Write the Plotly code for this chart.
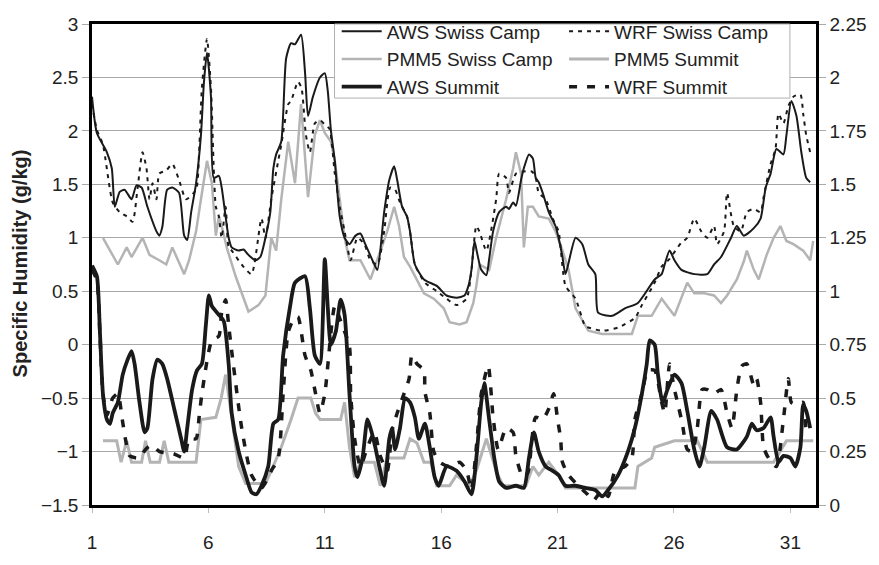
import plotly.graph_objects as go

# ---- Swiss Camp (left axis, g/kg) ----
aws_sc_day = [1.00, 1.21, 1.64, 1.85, 1.98, 2.19, 2.40, 2.70, 2.91, 3.13, 3.38, 3.77, 3.89, 4.02, 4.23, 4.45,
              4.74, 4.96, 5.09, 5.26, 5.47, 5.68, 5.81, 5.94, 6.11, 6.23, 6.45, 6.57, 6.87, 7.00, 7.30, 7.51,
              7.72, 8.02, 8.23, 8.45, 8.66, 8.79, 8.91, 9.13, 9.34, 9.55, 9.72, 9.98, 10.15, 10.28, 10.49,
              10.79, 11.00, 11.13, 11.26, 11.43, 11.64, 11.85, 12.06, 12.32, 12.53, 12.74, 13.13, 13.26,
              13.55, 13.77, 13.98, 14.11, 14.32, 14.53, 14.66, 14.87, 15.26, 15.81, 16.23, 16.66, 17.00,
              17.17, 17.30, 17.43, 17.55, 17.72, 17.94, 18.06, 18.23, 18.49, 18.79, 18.91, 19.09, 19.21,
              19.43, 19.55, 19.77, 19.94, 20.06, 20.19, 20.36, 20.62, 20.91, 21.04, 21.21, 21.34, 21.77,
              22.06, 22.32, 22.62, 22.74, 23.34, 23.89, 24.45, 25.17, 25.47, 25.60, 25.81, 26.02, 26.32,
              26.87, 27.43, 27.72, 28.02, 28.45, 28.70, 29.00, 29.43, 29.72, 29.94, 30.15, 30.40, 30.70,
              30.83, 31.04, 31.26, 31.47, 31.68, 31.85]
aws_sc_q = [2.32, 1.98, 1.80, 1.65, 1.29, 1.43, 1.45, 1.36, 1.49, 1.47, 1.29, 1.06, 1.02, 1.10, 1.45, 1.47,
            1.42, 1.02, 0.98, 1.24, 1.51, 1.96, 2.46, 2.73, 2.32, 1.56, 1.58, 1.47, 1.00, 0.91, 0.88, 0.89,
            0.84, 0.79, 0.82, 1.00, 1.24, 1.65, 1.78, 1.90, 2.68, 2.82, 2.81, 2.90, 2.55, 2.14, 2.32,
            2.50, 2.54, 2.37, 2.01, 1.72, 1.20, 1.00, 0.94, 1.02, 1.04, 0.94, 0.75, 0.70,
            1.24, 1.54, 1.67, 1.54, 1.29, 1.20, 1.06, 0.75, 0.61, 0.55, 0.46, 0.44, 0.46,
            0.55, 0.70, 0.97, 0.85, 0.70, 0.65, 0.80, 1.06, 1.24, 1.29, 1.27, 1.33, 1.30,
            1.54, 1.65, 1.78, 1.74, 1.56, 1.52, 1.42, 1.24, 1.11, 1.00, 0.82, 0.66, 1.00,
            0.94, 0.75, 0.66, 0.30, 0.27, 0.34, 0.39, 0.61, 0.66, 0.75, 0.88, 0.79, 0.70,
            0.66, 0.66, 0.75, 0.82, 1.00, 1.11, 1.02, 1.09, 1.18, 1.47, 1.60, 1.83, 1.78,
            1.96, 2.28, 2.14, 1.80, 1.56, 1.52]

wrf_sc_day = [1.00, 1.21, 1.47, 1.89, 2.19, 2.49, 2.74, 2.96, 3.17, 3.34, 3.47, 3.60, 3.77, 3.89, 4.19,
              4.45, 4.74, 5.04, 5.47, 5.60, 5.72, 5.94, 6.11, 6.23, 6.32, 6.45, 6.57, 6.74, 6.87, 7.00,
              7.43, 7.85, 8.28, 8.45, 8.70, 9.00, 9.13, 9.43, 9.55, 9.85, 10.00, 10.19, 10.36, 10.57,
              10.79, 11.04, 11.20, 11.43, 11.64, 11.85, 12.11, 12.40, 12.70, 12.96, 13.26, 13.55, 13.81,
              14.02, 14.23, 14.53, 14.66, 14.87, 15.30, 15.81, 16.23, 16.66, 17.09, 17.30, 17.51, 17.64,
              17.94, 18.36, 18.49, 18.79, 18.91, 19.21, 19.55, 19.90, 20.06, 20.19, 20.49, 20.79, 21.04,
              21.34, 21.77, 22.19, 22.32, 22.91, 23.60, 24.32, 24.62, 25.17, 25.47, 25.80, 26.30, 26.57,
              26.87, 27.17, 27.43, 27.72, 27.85, 28.15, 28.28, 28.57, 28.87, 29.13, 29.43, 29.72, 29.85,
              30.15, 30.36, 30.49, 30.70, 30.91, 31.13, 31.43, 31.55, 31.68, 31.85]
wrf_sc_q = [2.25, 2.01, 1.87, 1.33, 1.24, 1.20, 1.15, 1.47, 1.80, 1.65, 1.36, 1.51, 1.36, 1.60, 1.63,
            1.69, 1.54, 1.36, 1.45, 1.80, 2.40, 2.86, 2.40, 1.65, 1.29, 1.20, 1.00, 1.29, 0.91, 0.88,
            0.75, 0.66, 1.18, 1.00, 1.36, 1.72, 1.87, 2.25, 2.28, 2.46, 2.40, 1.96, 1.80, 2.07,
            2.10, 2.05, 2.02, 1.60, 1.29, 1.06, 0.79, 1.00, 0.94, 0.79, 0.75, 1.06, 1.47,
            1.45, 1.33, 1.20, 1.06, 0.75, 0.58, 0.50, 0.43, 0.37, 0.43, 0.70, 1.11, 1.06,
            0.88, 1.36, 1.60, 1.56, 1.42, 1.60, 1.62, 1.62, 1.56, 1.42, 1.36, 1.18, 1.06,
            0.55, 0.43, 0.17, 0.16, 0.13, 0.16, 0.25, 0.37, 0.58, 0.73, 0.80, 0.95, 1.00,
            1.18, 1.06, 1.00, 1.11, 0.94, 1.06, 1.42, 1.11, 1.06, 1.24, 1.27, 1.24, 1.38,
            1.69, 1.83, 2.16, 2.07, 2.23, 2.32, 2.34, 2.16, 1.96, 1.80]

pmm5_sc_day = [1.47, 1.89, 2.11, 2.49, 2.70, 3.17, 3.47, 3.89, 4.19, 4.45, 4.83, 4.96, 5.17, 5.47, 5.68,
               5.94, 6.15, 6.32, 6.45, 6.57, 6.80, 7.17, 7.72, 8.15, 8.45, 8.57, 8.70, 8.91, 9.13, 9.43,
               9.72, 9.98, 10.28, 10.57, 10.79, 11.00, 11.26, 11.43, 11.64, 11.85, 12.06, 12.53, 12.96,
               13.68, 13.98, 14.19, 14.40, 14.66, 15.26, 15.68, 16.11, 16.36, 16.79, 17.09, 17.38, 17.51,
               17.64, 18.06, 18.36, 18.79, 19.09, 19.21, 19.43, 19.55, 19.72, 19.94, 20.19, 20.62, 20.91,
               21.21, 21.47, 21.77, 22.32, 22.91, 24.19, 24.45, 25.04, 25.47, 26.02, 26.32, 26.57, 26.87,
               27.30, 27.72, 28.02, 28.28, 28.70, 29.00, 29.13, 29.43, 29.64, 29.98, 30.28, 30.57, 30.83,
               31.13, 31.55, 31.85, 31.98]
pmm5_sc_q = [1.00, 0.84, 0.75, 0.91, 0.82, 1.00, 0.84, 0.79, 0.75, 0.91, 0.73, 0.66, 0.79, 1.06, 1.36,
             1.72, 1.51, 1.02, 1.20, 1.11, 0.90, 0.64, 0.31, 0.37, 0.46, 0.75, 1.00, 0.88, 1.36, 1.90,
             1.51, 2.25, 1.38, 1.96, 2.10, 1.98, 1.90, 1.72, 1.36, 1.00, 0.79, 0.79, 0.61,
             1.06, 1.29, 1.11, 0.82, 0.73, 0.48, 0.43, 0.34, 0.21, 0.19, 0.21, 0.39, 0.55,
             0.75, 0.70, 1.00, 1.36, 1.65, 1.80, 1.60, 0.91, 1.29, 1.29, 1.20, 1.18, 1.06,
             0.88, 0.70, 0.34, 0.13, 0.10, 0.10, 0.27, 0.27, 0.43, 0.27, 0.43, 0.58, 0.48,
             0.48, 0.46, 0.39, 0.46, 0.61, 0.78, 0.88, 0.70, 0.61, 0.84, 1.00, 1.11, 0.97,
             0.94, 0.88, 0.79, 0.97]

# ---- Summit (right axis, g/kg) ----
aws_su_day = [1.00, 1.21, 1.34, 1.47, 1.64, 1.77, 1.89, 2.11, 2.32, 2.53, 2.70, 2.83, 3.04, 3.26, 3.38,
              3.60, 3.81, 4.02, 4.23, 4.53, 4.83, 4.96, 5.09, 5.30, 5.51, 5.72, 5.89, 6.02, 6.15, 6.45,
              6.66, 6.87, 7.00, 7.30, 7.60, 7.85, 8.06, 8.28, 8.57, 8.79, 9.00, 9.21, 9.51, 9.72, 10.15,
              10.36, 10.57, 10.79, 11.00, 11.13, 11.26, 11.47, 11.68, 11.85, 12.06, 12.28, 12.40, 12.62,
              12.83, 12.96, 13.17, 13.34, 13.55, 13.77, 13.89, 14.02, 14.23, 14.45, 14.66, 14.87, 15.04,
              15.30, 15.51, 15.72, 15.89, 16.23, 16.66, 17.00, 17.30, 17.51, 17.72, 17.85, 18.06, 18.28,
              18.49, 18.79, 19.21, 19.55, 19.77, 19.98, 20.19, 20.49, 20.79, 21.04, 21.34, 21.77, 22.19,
              22.62, 22.91, 23.17, 23.60, 24.02, 24.32, 24.62, 24.83, 24.96, 25.17, 25.30, 25.51, 25.72,
              26.02, 26.32, 26.57, 26.87, 27.09, 27.30, 27.60, 27.85, 28.28, 28.70, 29.13, 29.34, 29.55,
              29.85, 30.15, 30.28, 30.49, 30.70, 31.00, 31.21, 31.43, 31.55, 31.68, 31.85]
aws_su_q = [1.12, 1.07, 0.81, 0.52, 0.40, 0.38, 0.43, 0.48, 0.61, 0.68, 0.72, 0.66, 0.48, 0.34, 0.36,
            0.59, 0.68, 0.66, 0.59, 0.45, 0.31, 0.25, 0.36, 0.54, 0.63, 0.66, 0.84, 0.98, 0.93, 0.89,
            0.86, 0.66, 0.43, 0.25, 0.14, 0.06, 0.05, 0.09, 0.18, 0.38, 0.40, 0.70, 0.93, 1.04, 1.07,
            0.92, 0.70, 0.66, 1.15, 0.92, 0.75, 0.81, 0.96, 0.89, 0.52, 0.18, 0.13, 0.22,
            0.40, 0.36, 0.27, 0.18, 0.09, 0.31, 0.36, 0.26, 0.36, 0.50, 0.48, 0.41, 0.31,
            0.38, 0.27, 0.13, 0.09, 0.18, 0.16, 0.11, 0.05, 0.22, 0.48, 0.57, 0.40, 0.22,
            0.11, 0.08, 0.09, 0.08, 0.22, 0.34, 0.25, 0.18, 0.16, 0.14, 0.09, 0.09, 0.08,
            0.07, 0.04, 0.07, 0.14, 0.25, 0.36, 0.52, 0.66, 0.77, 0.75, 0.62, 0.48, 0.54,
            0.61, 0.57, 0.44, 0.26, 0.18, 0.27, 0.44, 0.40, 0.27, 0.26, 0.32, 0.38, 0.35,
            0.36, 0.41, 0.32, 0.20, 0.23, 0.22, 0.18, 0.27, 0.47, 0.44, 0.36]

wrf_su_day = [1.00, 1.21, 1.34, 1.47, 1.64, 1.89, 2.11, 2.30, 2.45, 2.62, 3.04, 3.30, 3.55, 3.90, 4.50,
              4.96, 5.17, 5.47, 5.60, 5.72, 6.15, 6.45, 6.57, 6.74, 6.87, 7.00, 7.43, 7.85, 8.28, 8.70,
              9.00, 9.21, 9.43, 9.72, 9.85, 10.15, 10.40, 10.57, 10.79, 11.00, 11.43, 11.68, 12.06, 12.11,
              12.28, 12.53, 12.83, 13.13, 13.38, 13.68, 13.89, 14.11, 14.40, 14.62, 14.74, 14.96, 15.26,
              15.30, 15.51, 15.68, 15.94, 16.36, 16.79, 17.09, 17.30, 17.51, 17.72, 18.02, 18.23, 18.45,
              18.79, 19.09, 19.21, 19.51, 19.72, 20.06, 20.36, 20.62, 20.83, 21.00, 21.13, 21.21, 21.47,
              21.89, 22.28, 22.53, 22.91, 23.17, 23.47, 23.89, 24.19, 24.32, 24.62, 24.87, 25.17, 25.47,
              25.60, 25.81, 26.00, 26.15, 26.36, 26.57, 26.79, 27.00, 27.21, 27.43, 27.72, 28.02, 28.28,
              28.49, 28.70, 28.91, 29.13, 29.43, 29.55, 29.72, 29.85, 30.06, 30.40, 30.70, 30.91, 31.04,
              31.26, 31.55, 31.68, 31.85]
wrf_su_q = [1.10, 1.05, 0.80, 0.52, 0.42, 0.50, 0.52, 0.40, 0.30, 0.23, 0.22, 0.26, 0.28, 0.25, 0.24,
            0.22, 0.31, 0.31, 0.41, 0.52, 0.77, 0.79, 0.90, 0.96, 0.84, 0.72, 0.36, 0.14, 0.08, 0.16,
            0.22, 0.52, 0.81, 0.88, 0.88, 0.70, 0.63, 0.54, 0.43, 0.52, 0.93, 0.86, 0.74, 0.52,
            0.31, 0.18, 0.27, 0.34, 0.23, 0.16, 0.35, 0.43, 0.52, 0.59, 0.70, 0.66, 0.63,
            0.53, 0.43, 0.25, 0.20, 0.18, 0.20, 0.16, 0.07, 0.27, 0.52, 0.65, 0.41, 0.26,
            0.36, 0.34, 0.23, 0.13, 0.15, 0.41, 0.40, 0.45, 0.52, 0.40, 0.31, 0.20, 0.14,
            0.09, 0.05, 0.02, 0.07, 0.04, 0.16, 0.18, 0.22, 0.40, 0.52, 0.63, 0.63, 0.48,
            0.43, 0.66, 0.55, 0.48, 0.38, 0.26, 0.25, 0.36, 0.54, 0.54, 0.52, 0.54, 0.43,
            0.36, 0.54, 0.65, 0.66, 0.56, 0.59, 0.48, 0.27, 0.22, 0.18, 0.40, 0.59, 0.48,
            0.47, 0.48, 0.36, 0.38]

pmm5_su_day = [1.47, 2.06, 2.25, 2.49, 2.70, 3.13, 3.30, 3.50, 3.90, 4.10, 4.30, 5.47, 5.68, 6.32, 6.55,
               6.74, 6.95, 7.30, 7.60, 8.45, 8.70, 9.13, 9.55, 9.85, 10.40, 10.60, 10.80, 11.68, 11.85,
               12.06, 12.28, 12.53, 13.13, 13.38, 13.68, 14.40, 14.66, 14.96, 15.26, 15.55, 15.81, 16.36,
               16.66, 17.21, 17.51, 17.94, 18.36, 18.66, 19.64, 19.94, 20.19, 20.62, 21.04, 21.34, 24.32,
               24.45, 25.04, 25.17, 26.02, 27.00, 27.43, 30.28, 30.83, 31.98]
pmm5_su_q = [0.30, 0.30, 0.20, 0.30, 0.20, 0.20, 0.30, 0.20, 0.20, 0.30, 0.20, 0.20, 0.40, 0.41, 0.50,
             0.61, 0.45, 0.18, 0.10, 0.10, 0.16, 0.27, 0.40, 0.50, 0.50, 0.43, 0.40, 0.40, 0.48,
             0.27, 0.13, 0.20, 0.20, 0.09, 0.22, 0.22, 0.31, 0.29, 0.20, 0.20, 0.09, 0.09,
             0.14, 0.09, 0.16, 0.31, 0.16, 0.09, 0.09, 0.18, 0.14, 0.20, 0.14, 0.08, 0.08,
             0.18, 0.22, 0.27, 0.30, 0.30, 0.20, 0.20, 0.30, 0.30]

day_ticks = [1, 6, 11, 16, 21, 26, 31]

BLACK = "#1a1a1a"
GREY = "#b4b4b4"
FONT = "Liberation Sans, Arial, sans-serif"

fig = go.Figure()

def add(x, y, name, color, width, dash, axis, legend, smooth):
    line = dict(color=color, width=width, dash=dash)
    if smooth:
        line.update(shape="spline", smoothing=0.6)
    fig.add_trace(go.Scatter(
        x=x, y=y, name=name, mode="lines", yaxis=axis, legend=legend, line=line,
    ))

# draw order: model lines underneath observations
add(pmm5_sc_day, pmm5_sc_q, "PMM5 Swiss Camp", GREY, 2.5, "solid", "y", "legend", False)
add(pmm5_su_day, pmm5_su_q, "PMM5 Summit", GREY, 3, "solid", "y2", "legend2", False)
add(wrf_sc_day, wrf_sc_q, "WRF Swiss Camp", BLACK, 2, "4px,5px", "y", "legend2", True)
add(wrf_su_day, wrf_su_q, "WRF Summit", BLACK, 3.5, "8px,10px", "y2", "legend2", True)
add(aws_sc_day, aws_sc_q, "AWS Swiss Camp", BLACK, 2, "solid", "y", "legend", True)
add(aws_su_day, aws_su_q, "AWS Summit", BLACK, 3.8, "solid", "y2", "legend", True)

# legend rank order
rank = {"AWS Swiss Camp": 1, "PMM5 Swiss Camp": 2, "AWS Summit": 3,
        "WRF Swiss Camp": 1, "PMM5 Summit": 2, "WRF Summit": 3}
for tr in fig.data:
    tr.legendrank = rank[tr.name]

tick_font = dict(family=FONT, size=19, color="#222")
legend_font = dict(family=FONT, size=19, color="#222")

fig.update_layout(
    width=879, height=565,
    margin=dict(l=92, r=56, t=17, b=47),
    paper_bgcolor="white", plot_bgcolor="white",
    font=dict(family=FONT, size=18, color="#222"),
    xaxis=dict(
        range=[1, 32.1], tickvals=day_ticks, ticktext=[str(d) for d in day_ticks],
        showgrid=False, zeroline=False, showline=True, mirror=True,
        linecolor="black", linewidth=2.5, ticks="outside", ticklen=5,
        tickcolor="#bbbbbb", tickwidth=1, tickfont=tick_font, ticklabelstandoff=13,
    ),
    yaxis=dict(
        range=[-1.5, 3], dtick=0.5, tick0=0, showgrid=True, gridcolor="#a8a8a8", gridwidth=1,
        zeroline=False, showline=True, mirror=True, linecolor="black", linewidth=2.5,
        ticks="outside", ticklen=7, tickcolor="#aaaaaa", tickfont=tick_font,
    ),
    yaxis2=dict(
        range=[0, 2.25], dtick=0.25, tick0=0, overlaying="y", side="right",
        showgrid=False, zeroline=False, showline=True, linecolor="black", linewidth=2.5,
        ticks="outside", ticklen=7, tickcolor="#aaaaaa", tickfont=tick_font,
        tickformat="~g",
    ),
    legend=dict(
        x=0.338, y=1.024, xanchor="left", yanchor="top", bgcolor="rgba(0,0,0,0)",
        font=legend_font, tracegroupgap=0, itemwidth=40,
    ),
    legend2=dict(
        x=0.652, y=1.024, xanchor="left", yanchor="top", bgcolor="rgba(0,0,0,0)",
        font=legend_font, tracegroupgap=0, itemwidth=40,
    ),
    showlegend=True,
    shapes=[dict(
        type="rect", xref="paper", yref="paper", x0=0.335, x1=0.964, y0=0.846, y1=1.0,
        fillcolor="white", line=dict(color="#b0b0b0", width=1), layer="above",
    )],
    annotations=[dict(
        text="<b>Specific Humidity (g/kg)</b>", textangle=-90, xref="paper", yref="paper",
        x=-0.099, y=0.503, xanchor="center", yanchor="middle", showarrow=False,
        font=dict(family=FONT, size=20, color="#222"),
    )],
)

fig.write_html("out.html")
